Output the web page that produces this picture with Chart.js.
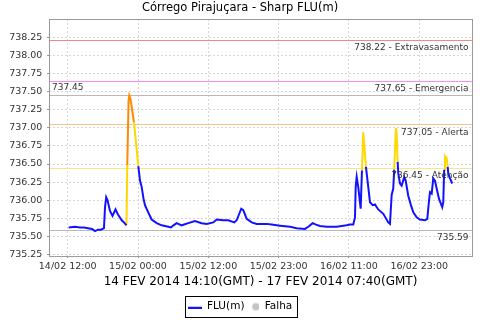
<!DOCTYPE html>
<html><head><meta charset="utf-8">
<script src="https://cdn.jsdelivr.net/npm/chart.js@4"></script>
<style>html,body{margin:0;padding:0;background:#fff}#wrap{width:480px;height:320px}</style>
</head><body><div id="wrap"><canvas id="c" width="480" height="320"></canvas></div>
<script>
const chartTitle = 'Córrego Pirajuçara - Sharp FLU(m)';
const xAxisTitle = '14 FEV 2014 14:10(GMT) - 17 FEV 2014 07:40(GMT)';
const seriesName = 'FLU(m)';
const failName = 'Falha';
// hours since 14/02 14:00 GMT
const hours = [0.17,1.25,2.10,2.78,3.46,4.15,4.66,5.17,5.68,6.19,6.37,6.57,6.79,7.22,7.65,8.16,8.58,9.22,9.61,10.03,
10.17,10.39,10.51,10.72,11.09,11.31,12.05,12.34,12.63,12.94,13.19,13.75,14.33,15.19,16.04,17.17,17.63,18.05,18.60,19.45,
20.58,21.72,22.87,23.72,24.85,25.43,26.55,27.41,28.43,28.84,29.23,29.62,29.97,30.55,31.40,32.25,33.96,34.81,36.23,37.94,
39.08,40.50,41.06,41.81,42.37,43.05,44.20,45.90,46.76,47.61,48.17,48.74,49.03,49.15,49.32,49.59,50.00,50.22,50.44,50.90,
51.30,51.59,52.05,52.44,53.00,53.86,54.71,55.00,55.29,55.56,55.72,56.02,56.14,56.31,56.42,56.71,57.00,57.44,57.68,58.12,
58.58,58.98,59.56,60.12,60.97,61.37,61.66,61.83,62.12,62.39,62.68,62.97,63.36,63.92,64.10,64.25,64.39,64.68,64.85,64.95,
65.24,65.63];
const levels = [735.62,735.63,735.62,735.62,735.61,735.60,735.57,735.59,735.59,735.61,735.90,736.04,736.00,735.85,735.78,735.87,735.80,735.72,735.69,735.65,
736.48,737.38,737.45,737.40,737.20,737.08,736.47,736.27,736.18,736.02,735.93,735.83,735.73,735.68,735.65,735.63,735.62,735.65,735.68,735.65,
735.68,735.71,735.68,735.67,735.69,735.73,735.72,735.72,735.69,735.72,735.80,735.88,735.86,735.74,735.69,735.67,735.67,735.66,735.645,735.63,
735.61,735.60,735.63,735.68,735.66,735.64,735.63,735.63,735.64,735.65,735.66,735.66,735.76,736.18,736.32,736.18,735.88,736.41,736.94,736.46,
736.18,735.97,735.93,735.94,735.87,735.81,735.69,735.67,736.07,736.16,736.42,737.00,736.93,736.53,736.37,736.23,736.20,736.32,736.27,736.06,
735.93,735.83,735.76,735.73,735.72,735.74,735.99,736.11,736.09,736.30,736.27,736.16,736.02,735.90,735.97,736.42,736.61,736.58,736.46,736.37,
736.30,736.23];
const xTickHours = [0, 12, 24, 36, 48, 60];
const xTickLabels = ['14/02 12:00', '15/02 00:00', '15/02 12:00', '15/02 23:00', '16/02 11:00', '16/02 23:00'];
const yTicks = [735.25, 735.50, 735.75, 736.00, 736.25, 736.50, 736.75, 737.00, 737.25, 737.50, 737.75, 738.00, 738.25];
const markerValues = [738.22, 737.65, 737.45, 737.05, 736.45, 735.59];
const markerLabels = ['738.22 - Extravasamento', '737.65 - Emergencia', '737.45', '737.05 - Alerta', '736.45 - Atenção', '735.59'];
const alertLevel = 737.05;
const attentionLevel = 736.45;

// styles
const LEVEL_COLORS = ['#1212ff', '#ffd800', '#ff8a00']; // normal, attention, alert
const BLUE = LEVEL_COLORS[0];
const MARKER_STYLE = [
  {color: '#f08888', side: 'right'},
  {color: '#ff88ff', side: 'right'},
  {color: '#b8b8b8', side: 'left'},
  {color: '#ffc488', side: 'right'},
  {color: '#f4e68c', side: 'right'},
  {color: '#b8b8b8', side: 'right'}
];
Chart.defaults.font.family = "'DejaVu Sans', sans-serif";

// each stretch of the series is coloured by the level class of the point it ends at
function levelClass(v) { return v >= alertLevel ? 2 : (v >= attentionLevel ? 1 : 0); }
function runsFor(cls) {
  const out = [];
  for (let i = 0; i < levels.length - 1; i++) {
    if (levelClass(levels[i + 1]) !== cls) continue;
    const continues = i > 0 && levelClass(levels[i]) === cls;
    if (!continues) {
      if (out.length) out.push({x: hours[i], y: null});
      out.push({x: hours[i], y: levels[i]});
    }
    out.push({x: hours[i + 1], y: levels[i + 1]});
  }
  return out;
}

function lineImg() {
  const c = document.createElement('canvas'); c.width = 14; c.height = 4;
  const g = c.getContext('2d'); g.fillStyle = BLUE; g.fillRect(0, 2, 14, 2); return c;
}
function dotImg() {
  const c = document.createElement('canvas'); c.width = 14; c.height = 10;
  const g = c.getContext('2d'); g.fillStyle = '#c4c4c4';
  g.beginPath(); g.arc(10.5, 5, 3.8, 0, Math.PI * 2); g.fill(); return c;
}
const LINE_IMG = lineImg(), DOT_IMG = dotImg();

const decoPlugin = {
  id: 'deco',
  beforeDatasetsDraw(chart) {
    const {ctx, chartArea: a, scales: {y}} = chart;
    ctx.save();
    ctx.lineWidth = 1;
    markerValues.forEach((v, i) => {
      const py = Math.round(y.getPixelForValue(v)) + 0.5;
      ctx.strokeStyle = MARKER_STYLE[i].color;
      ctx.beginPath(); ctx.moveTo(a.left, py); ctx.lineTo(a.right, py); ctx.stroke();
    });
    ctx.restore();
  },
  afterDatasetsDraw(chart) {
    const {ctx, chartArea: a, scales: {y}} = chart;
    ctx.save();
    ctx.font = "9px 'DejaVu Sans'";
    ctx.fillStyle = '#333';
    ctx.textBaseline = 'middle';
    markerValues.forEach((v, i) => {
      const py = y.getPixelForValue(v);
      if (MARKER_STYLE[i].side === 'left') {
        ctx.textAlign = 'left'; ctx.fillText(markerLabels[i], a.left + 3, py - 7.6);
      } else {
        ctx.textAlign = 'right'; ctx.fillText(markerLabels[i], a.right - 3.5, py + 8);
      }
    });
    ctx.restore();
  },
  afterDraw(chart) {
    const {ctx, chartArea: a} = chart;
    ctx.save();
    ctx.strokeStyle = '#9a9a9a'; ctx.lineWidth = 1;
    ctx.strokeRect(a.left + 0.5, a.top + 0.5, a.right - a.left, a.bottom - a.top);
    const hb = chart.legend.legendHitBoxes;
    if (hb && hb.length) {
      const first = hb[0], last = hb[hb.length - 1];
      const cy = first.top + first.height / 2;
      const l = Math.round(first.left - 3) + 0.5, r = Math.round(last.left + last.width + 4.4) + 0.5;
      const t = Math.round(cy - 10.3) + 0.5, b = Math.round(cy + 10.6) + 0.5;
      ctx.strokeStyle = '#000';
      ctx.strokeRect(l, t, r - l, b - t);
    }
    ctx.restore();
  }
};

const datasets = [0, 1, 2].map(cls => ({
  label: seriesName,
  data: runsFor(cls),
  borderColor: LEVEL_COLORS[cls],
  borderWidth: 2,
  pointRadius: 0,
  pointHitRadius: 0,
  tension: 0,
  spanGaps: false,
  fill: false
}));

new Chart(document.getElementById('c'), {
  type: 'line',
  data: {datasets},
  options: {
    responsive: false,
    devicePixelRatio: 1,
    animation: false,
    layout: {padding: {left: 0, right: 0, top: 0, bottom: -2}},
    plugins: {
      title: {display: true, text: chartTitle, color: '#000', font: {size: 11.5, weight: 'normal'}, padding: {top: 1, bottom: 4.2}},
      legend: {
        position: 'bottom',
        labels: {
          usePointStyle: true,
          pointStyleWidth: 14,
          boxHeight: 10.5,
          padding: 1,
          font: {size: 10.5},
          color: '#000',
          generateLabels: () => [
            {text: seriesName, pointStyle: LINE_IMG, fillStyle: BLUE, strokeStyle: BLUE, lineWidth: 0, hidden: false, datasetIndex: 0, fontColor: '#000'},
            {text: failName, pointStyle: DOT_IMG, fillStyle: '#c4c4c4', strokeStyle: '#c4c4c4', lineWidth: 0, hidden: false, fontColor: '#000'}
          ]
        }
      },
      tooltip: {enabled: false}
    },
    scales: {
      x: {
        type: 'linear',
        min: -3.19, max: 69.0,
        bounds: 'data',
        afterBuildTicks: s => { s.ticks = xTickHours.map(v => ({value: v})); },
        afterFit: s => { s.height = 44.45; s.paddingLeft = 0; s.paddingRight = 8; },
        ticks: {
          autoSkip: false, maxRotation: 0, padding: 2.3, color: '#333', font: {size: 9.5},
          callback: v => xTickLabels[xTickHours.indexOf(v)]
        },
        grid: {color: '#d6d6d6', lineWidth: 1, drawTicks: true, tickLength: 2, tickColor: '#999', tickBorderDash: []},
        border: {display: false, dash: [2, 2]},
        title: {display: true, text: xAxisTitle, color: '#000', font: {size: 12}, padding: {top: 0, bottom: 11.25}}
      },
      y: {
        type: 'linear',
        min: 735.224, max: 738.51,
        bounds: 'data',
        afterBuildTicks: s => { s.ticks = yTicks.map(v => ({value: v})); },
        afterFit: s => { s.width = 49; s.paddingTop = 0; s.paddingBottom = 0; },
        ticks: {padding: 4.6, color: '#333', font: {size: 9.5}, callback: v => Number(v).toFixed(2)},
        grid: {color: '#d6d6d6', lineWidth: 1, drawTicks: true, tickLength: 2, tickColor: '#999', tickBorderDash: []},
        border: {display: false, dash: [2, 2]}
      }
    }
  },
  plugins: [decoPlugin]
});
</script>
</body></html>
